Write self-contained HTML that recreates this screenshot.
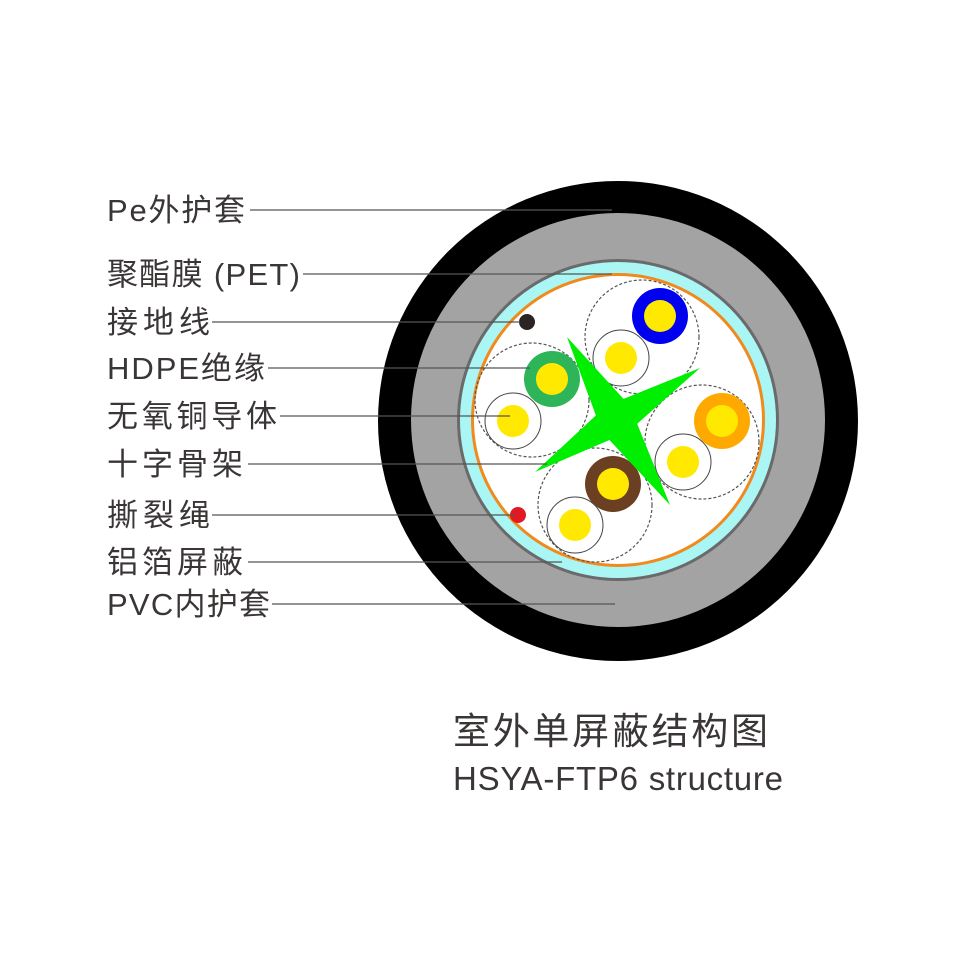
<!DOCTYPE html>
<html><head><meta charset="utf-8"><style>
html,body{margin:0;padding:0;background:#fff;}
svg{display:block}
text{font-family:"Liberation Sans","Noto Sans CJK SC",sans-serif;fill:#3a3636;}
</style></head><body>
<svg width="969" height="969" viewBox="0 0 969 969" xmlns="http://www.w3.org/2000/svg">
<rect width="969" height="969" fill="#fff"/>
<circle cx="618" cy="421" r="240" fill="#000"/>
<circle cx="618" cy="420" r="207" fill="#a3a3a3"/>
<circle cx="618" cy="420" r="161" fill="#6a6a6a"/>
<circle cx="618" cy="420" r="158" fill="#aaf6f4"/>
<circle cx="618" cy="420" r="147" fill="#f08a1c"/>
<circle cx="618" cy="420" r="144" fill="#fff"/>
<g fill="none" stroke="#555" stroke-width="1.2" stroke-dasharray="3,2">
<circle cx="642" cy="337" r="57"/>
<circle cx="532" cy="400" r="57"/>
<circle cx="702" cy="442" r="57"/>
<circle cx="595" cy="505" r="57"/>
</g>
<g stroke="#444" stroke-width="1">
<circle cx="621" cy="358" r="28" fill="#fff"/>
<circle cx="513" cy="421" r="28" fill="#fff"/>
<circle cx="683" cy="462" r="28" fill="#fff"/>
<circle cx="575" cy="525" r="28" fill="#fff"/>
</g>
<circle cx="660" cy="316" r="28" fill="#0000f0"/>
<circle cx="552" cy="379" r="28" fill="#2eb55a"/>
<circle cx="722" cy="421" r="28" fill="#ffa800"/>
<circle cx="613" cy="484" r="28" fill="#6b3f22"/>
<g fill="#ffe900">
<circle cx="660" cy="316" r="16"/><circle cx="552" cy="379" r="16"/>
<circle cx="722" cy="421" r="16"/><circle cx="613" cy="484" r="16"/>
<circle cx="621" cy="358" r="16"/><circle cx="513" cy="421" r="16"/>
<circle cx="683" cy="462" r="16"/><circle cx="575" cy="525" r="16"/>
</g>
<g fill="#00ee00">
<polygon points="567,337 630,406 670,505 602,432"/>
<polygon points="700,368 628,432 535,472 606,406"/>
</g>
<circle cx="527" cy="322" r="8" fill="#2a2523"/>
<circle cx="518" cy="515" r="8" fill="#e01a22"/>
<g stroke="#555" stroke-width="1.3">
<line x1="250" y1="210" x2="612" y2="210"/>
<line x1="303" y1="274" x2="612" y2="274"/>
<line x1="212" y1="322" x2="520" y2="322"/>
<line x1="268" y1="368" x2="530" y2="368"/>
<line x1="280" y1="416" x2="510" y2="416"/>
<line x1="248" y1="464" x2="547" y2="464"/>
<line x1="212" y1="515" x2="515" y2="515"/>
<line x1="248" y1="562" x2="562" y2="562"/>
<line x1="272" y1="604" x2="615" y2="604"/>
</g>
<g font-size="31">
<text x="107" y="221" textLength="138" lengthAdjust="spacing">Pe外护套</text>
<text x="107" y="285" textLength="193" lengthAdjust="spacing">聚酯膜 (PET)</text>
<text x="107" y="333" textLength="103" lengthAdjust="spacing">接地线</text>
<text x="107" y="379" textLength="158" lengthAdjust="spacing">HDPE绝缘</text>
<text x="107" y="427" textLength="170" lengthAdjust="spacing">无氧铜导体</text>
<text x="107" y="475" textLength="136" lengthAdjust="spacing">十字骨架</text>
<text x="107" y="526" textLength="103" lengthAdjust="spacing">撕裂绳</text>
<text x="107" y="573" textLength="136" lengthAdjust="spacing">铝箔屏蔽</text>
<text x="107" y="615" textLength="163" lengthAdjust="spacing">PVC内护套</text>
</g>
<text x="453" y="744" font-size="37" fill="#444" textLength="315" lengthAdjust="spacing">室外单屏蔽结构图</text>
<text x="453" y="790" font-size="33" fill="#444" textLength="330" lengthAdjust="spacing">HSYA-FTP6 structure</text>
</svg>
</body></html>
